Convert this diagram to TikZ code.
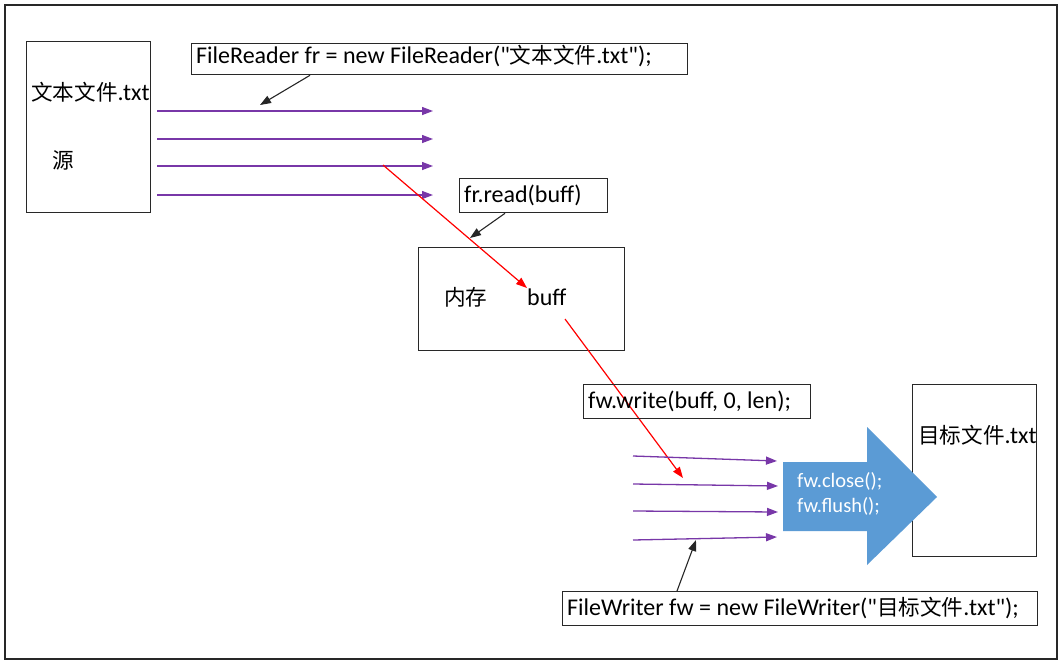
\documentclass[tikz,border=0pt]{standalone}
\usepackage{fontspec}
\setmainfont{Carlito}
\newfontfamily\plainf{Carlito}
\newfontfamily\cjk{Noto Sans CJK SC}[Scale=0.9]
\usetikzlibrary{arrows.meta}
\definecolor{purp}{RGB}{120,55,168}
\definecolor{boxline}{RGB}{40,40,40}
\definecolor{blue1}{RGB}{91,155,213}
\newcommand\dq{{\plainf\char34\relax}}
\tikzset{
  box/.style={draw=boxline, line width=1.3pt, inner sep=0pt, anchor=north west},
  txt/.style={anchor=base west, inner sep=0pt, font=\fontsize{24}{28}\selectfont},
  wtxt/.style={anchor=base west, inner sep=0pt, text=white, font=\fontsize{20.5}{25}\selectfont},
  flow/.style={draw=purp, line width=1.3pt, -{Triangle[length=11pt,width=8pt]}},
  redarr/.style={draw=red, line width=1.2pt, -{Triangle[length=11pt,width=8pt]}},
  callout/.style={draw=black!85, line width=1.1pt, -{Triangle[length=11pt,width=8pt]}},
}
\begin{document}
\begin{tikzpicture}[x=1pt,y=-1pt]
\useasboundingbox (0,0) rectangle (1063,665);
\draw[boxline, line width=1.3pt] (5,5) rectangle (1057,659);

% source box
\node[box, minimum width=124pt, minimum height=171pt] (src) at (26,41) {};
\node[txt] (srcname) at (31,100) {{\cjk 文本文件}.txt};
\node[txt] (srclbl) at (52,168) {\cjk 源};

% FileReader box
\node[box, minimum width=496pt, minimum height=31pt] (fr) at (191,43) {};
\node[txt] (frtxt) at (196,63) {FileReader fr = new FileReader(\dq{\cjk 文本文件}.txt\dq);};

% purple arrows (read)
\foreach \i/\y in {1/111,2/139,3/166,4/195}{
  \coordinate (ra\i) at (157,\y);
  \coordinate (rb\i) at (433,\y);
  \draw[flow] (ra\i) -- (rb\i);
}
\coordinate (frtip) at (260,105);
\draw[callout] (fr.south west -| 310,0) -- (frtip);

% fr.read box
\node[box, minimum width=148pt, minimum height=34pt] (rd) at (459,178) {};
\node[txt] (rdtxt) at (464,202) {fr.read(buff)};
\coordinate (rdtip) at (470,238);
\draw[callout] (rd.south west -| 505,0) -- (rdtip);

% memory box
\node[box, minimum width=206pt, minimum height=103pt] (mem) at (418,247) {};
\node[txt] (memlbl) at (444,305) {\cjk 内存};
\node[txt] (buff) at (527,305) {buff};

% red arrows
\coordinate (red1s) at (383,165);
\coordinate (red1e) at (527,288);
\draw[redarr] (red1s) -- (red1e);
\coordinate (red2s) at (565,319);
\coordinate (red2e) at (683,478);
\draw[redarr] (red2s) -- (red2e);

% fw.write box
\node[box, minimum width=227pt, minimum height=34pt] (wr) at (583,384) {};
\node[txt] (wrtxt) at (588,408) {fw.write(buff, 0, len);};

% purple arrows (write)
\coordinate (wa1) at (633,456); \coordinate (wb1) at (777,461);
\coordinate (wa2) at (633,484); \coordinate (wb2) at (778,486);
\coordinate (wa3) at (633,511); \coordinate (wb3) at (778,512);
\coordinate (wa4) at (633,540); \coordinate (wb4) at (777,537);
\foreach \i in {1,2,3,4}{ \draw[flow] (wa\i) -- (wb\i); }

% target box
\node[box, minimum width=124pt, minimum height=172pt] (dst) at (912,384) {};
\node[txt] (dsttxt) at (918,443) {{\cjk 目标文件}.txt};

% big blue arrow
\fill[blue1] (783,462) -- (867,462) -- (867,427) -- (937,497) -- (867,565) -- (867,531) -- (783,531) -- cycle;
\node[wtxt] (close) at (797,487) {fw.close();};
\node[wtxt] (flush) at (797,512) {fw.flush();};

% FileWriter box
\node[box, minimum width=475pt, minimum height=34pt] (fw) at (562,591) {};
\node[txt] (fwtxt) at (567,615) {FileWriter fw = new FileWriter(\dq{\cjk 目标文件}.txt\dq);};
\coordinate (fwtip) at (696,540);
\draw[callout] (fw.north west -| 677,0) -- (fwtip);
\end{tikzpicture}
\end{document}
